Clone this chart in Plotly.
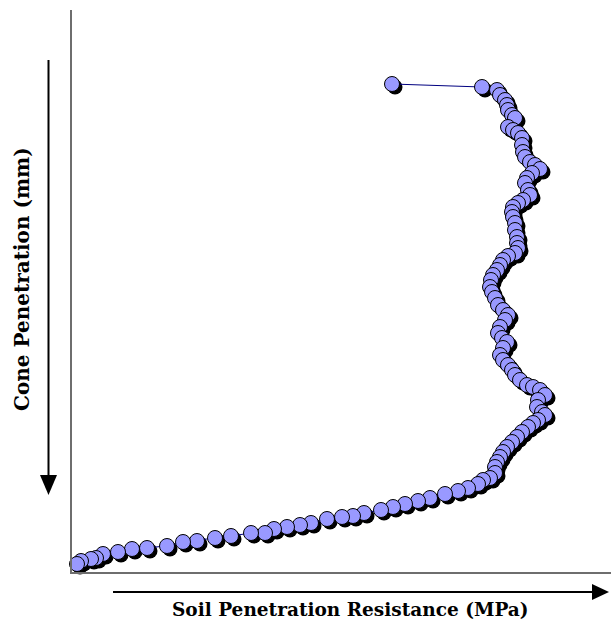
import plotly.graph_objects as go

# Soil penetration resistance (MPa) and cone penetration (mm)
resistance_mpa = [
    3.20, 4.10, 4.25, 4.28, 4.33, 4.35, 4.36, 4.40, 4.43, 4.36,
    4.41, 4.46, 4.50, 4.50, 4.51, 4.53, 4.58, 4.63, 4.68, 4.60,
    4.55, 4.53, 4.56, 4.58, 4.51, 4.46, 4.41, 4.40, 4.41, 4.43,
    4.43, 4.45, 4.45, 4.46, 4.43, 4.36, 4.31, 4.28, 4.25, 4.21,
    4.19, 4.18, 4.20, 4.23, 4.26, 4.31, 4.36, 4.33, 4.28, 4.26,
    4.30, 4.35, 4.31, 4.28, 4.31, 4.36, 4.40, 4.43, 4.48, 4.55,
    4.61, 4.68, 4.73, 4.66, 4.65, 4.70, 4.73, 4.66, 4.61, 4.56,
    4.50, 4.45, 4.40, 4.35, 4.31, 4.28, 4.25, 4.23, 4.23, 4.18,
    4.11, 4.06, 3.96, 3.86, 3.73, 3.58, 3.46, 3.33, 3.21, 3.09,
    2.92, 2.81, 2.70, 2.55, 2.39, 2.28, 2.15, 2.02, 1.93, 1.79,
    1.59, 1.43, 1.25, 1.11, 0.95, 0.75, 0.60, 0.46, 0.31, 0.24,
    0.19, 0.09, 0.05,
]
penetration_mm = [
    7.4, 7.7, 8.0, 8.5, 9.0, 9.5, 10.0, 10.5, 10.8, 11.7,
    12.0, 12.3, 12.8, 13.5, 14.2, 14.7, 15.2, 15.5, 15.9, 16.3,
    16.8, 17.3, 18.0, 18.5, 19.0, 19.3, 19.7, 20.2, 20.7, 21.3,
    22.0, 22.7, 23.3, 23.8, 24.3, 24.6, 25.0, 25.5, 26.0, 26.5,
    27.0, 27.7, 28.2, 28.8, 29.5, 30.0, 30.5, 31.0, 31.7, 32.3,
    32.8, 33.2, 33.8, 34.5, 35.0, 35.5, 36.0, 36.5, 37.0, 37.5,
    37.7, 38.0, 38.5, 39.0, 39.7, 40.2, 40.5, 41.0, 41.3, 41.7,
    42.2, 42.7, 43.2, 43.7, 44.2, 44.7, 45.2, 45.7, 46.3, 46.8,
    47.0, 47.4, 47.8, 48.1, 48.4, 48.8, 49.1, 49.4, 49.7, 50.0,
    50.3, 50.6, 50.7, 50.9, 51.3, 51.5, 51.7, 51.9, 52.3, 52.3,
    52.6, 52.8, 53.1, 53.2, 53.6, 53.8, 53.9, 54.2, 54.4, 54.8,
    54.9, 55.1, 55.4,
]

x_title = "Soil Penetration Resistance (MPa)"
y_title = "Cone Penetration (mm)"

X_RANGE = [0, 5.39]
Y_RANGE = [56.2, 0]
SHIFT_X = 0.03   # shadow offset (about 3 px)
SHIFT_Y = 0.3

fig = go.Figure()

# drop shadow of markers: base axes with shifted ranges (drawn first, underneath)
fig.add_trace(go.Scatter(
    x=resistance_mpa, y=penetration_mm, mode="markers",
    marker=dict(size=15, color="black", line=dict(width=0)),
    xaxis="x", yaxis="y", cliponaxis=False, hoverinfo="skip",
    showlegend=False,
))

# actual series on overlaid axes with the true ranges (drawn on top)
fig.add_trace(go.Scatter(
    x=resistance_mpa, y=penetration_mm, mode="lines+markers",
    line=dict(color="#000080", width=1),
    marker=dict(size=15, color="#9999FF", line=dict(color="black", width=1)),
    xaxis="x2", yaxis="y2", cliponaxis=False, showlegend=False,
))

axis_common = dict(showgrid=False, zeroline=False, showticklabels=False,
                   ticks="", showline=True, linecolor="#6e6e6e", linewidth=1.5)

fig.update_layout(
    width=611, height=620,
    margin=dict(l=72, r=0, t=10, b=48),
    plot_bgcolor="white", paper_bgcolor="white",
    xaxis=dict(range=[X_RANGE[0] - SHIFT_X, X_RANGE[1] - SHIFT_X], **axis_common),
    yaxis=dict(range=[Y_RANGE[0] - SHIFT_Y, Y_RANGE[1] - SHIFT_Y], **axis_common),
    xaxis2=dict(range=X_RANGE, overlaying="x", visible=False),
    yaxis2=dict(range=Y_RANGE, overlaying="y", visible=False),
    font=dict(family="DejaVu Serif", color="black"),
)

fig.add_annotation(text="<b>%s</b>" % x_title, xref="paper", yref="paper",
                   x=0.5158, y=-0.066, xanchor="center", yanchor="middle",
                   showarrow=False,
                   font=dict(family="DejaVu Serif", size=18.5, color="black"))
fig.add_annotation(text="<b>%s</b>" % y_title, xref="paper", yref="paper",
                   x=-0.0928, y=0.5214, xanchor="center", yanchor="middle",
                   textangle=-90, showarrow=False,
                   font=dict(family="DejaVu Serif", size=20, color="black"))

# arrows (vertical: down; horizontal: right)
fig.add_shape(type="line", xref="paper", yref="paper",
              x0=-0.0436, y0=0.911, x1=-0.0436, y1=0.17,
              line=dict(color="black", width=2))
fig.add_shape(type="path", xref="paper", yref="paper",
              path="M -0.0594,0.1726 L -0.0278,0.1726 L -0.0436,0.137 Z",
              fillcolor="black", line=dict(color="black", width=0))
fig.add_shape(type="line", xref="paper", yref="paper",
              x0=0.0761, y0=-0.0356, x1=0.966, y1=-0.0356,
              line=dict(color="black", width=2))
fig.add_shape(type="path", xref="paper", yref="paper",
              path="M 0.9647,-0.0214 L 0.9647,-0.0498 L 0.9963,-0.0356 Z",
              fillcolor="black", line=dict(color="black", width=0))

fig.write_html("out.html", config={"displayModeBar": False},
               post_script="document.body.style.margin='0px';")
